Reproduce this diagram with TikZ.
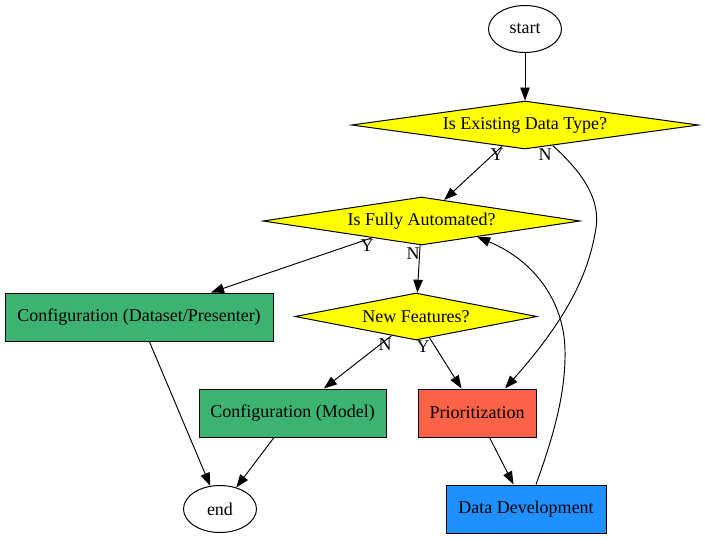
\documentclass[tikz,border=0pt]{standalone}
\usepackage{fontspec}
\setmainfont{Liberation Serif}
\usetikzlibrary{shapes.geometric,arrows.meta,calc}
\definecolor{gvyellow}{HTML}{FFFF00}
\definecolor{gvgreen}{HTML}{3CB371}
\definecolor{gvtomato}{HTML}{FF6347}
\definecolor{gvblue}{HTML}{1E90FF}
\begin{document}
\begin{tikzpicture}[x=1pt,y=-1pt,
  every node/.style={font=\fontsize{18}{20}\selectfont},
  term/.style={ellipse,draw,line width=1pt,minimum width=73pt,minimum height=47pt,inner sep=0pt},
  decision/.style={diamond,draw,line width=1pt,fill=gvyellow,aspect=6,inner sep=0pt},
  stepbox/.style={rectangle,draw,line width=1pt,minimum height=48pt,inner sep=0pt},
  lbl/.style={inner sep=0pt},
  conn/.style={line width=0.95pt,-{Triangle[length=13pt,width=9.5pt]}}
]
\useasboundingbox (0,0) rectangle (705,539);
\node[term] (start) at (525,29) {start};
\node[decision,minimum width=347pt,minimum height=48pt] (d1) at (525,125) {Is Existing Data Type?};
\node[decision,minimum width=317pt,minimum height=48pt] (d2) at (421.5,221) {Is Fully Automated?};
\node[decision,minimum width=242pt,minimum height=47pt] (d3) at (416,316.5) {New Features?};
\node[stepbox,fill=gvgreen,minimum width=268pt] (cfgdp) at (139,317) {Configuration (Dataset/Presenter)};
\node[stepbox,fill=gvgreen,minimum width=187pt] (cfgm) at (292.5,413) {Configuration (Model)};
\node[stepbox,fill=gvtomato,minimum width=118pt] (prio) at (477,413) {Prioritization};
\node[stepbox,fill=gvblue,minimum width=160pt] (dd) at (526,509) {Data Development};
\node[term] (end) at (220,509) {end};

\draw[conn] (start) -- (d1);
\draw[conn] (d1) -- (d2);
\draw[conn] ($(d1.south)!0.16!(d1.east)$) .. controls (585,175) and (600,200) .. (596,228)
   .. controls (590,265) and (575,310) .. ([xshift=28pt]prio.north);
\draw[conn] (d2) -- (cfgdp);
\draw[conn] (d2) -- (d3);
\draw[conn] (d3) -- (cfgm);
\draw[conn] (d3) -- (prio);
\draw[conn] (cfgdp) -- (end);
\draw[conn] (cfgm) -- (end);
\draw[conn] (prio) -- (dd);
\draw[conn] ([xshift=10pt]dd.north) .. controls (552,440) and (566,395) .. (565,350)
   .. controls (564,300) and (533,260) .. ($(d2.south)!0.35!(d2.east)$);

\node[lbl] (l1) at (497,155) {Y};
\node[lbl] (l2) at (545,155) {N};
\node[lbl] (l3) at (367,246) {Y};
\node[lbl] (l4) at (413,254) {N};
\node[lbl] (l5) at (385,345) {N};
\node[lbl] (l6) at (423,347) {Y};
\end{tikzpicture}
\end{document}
